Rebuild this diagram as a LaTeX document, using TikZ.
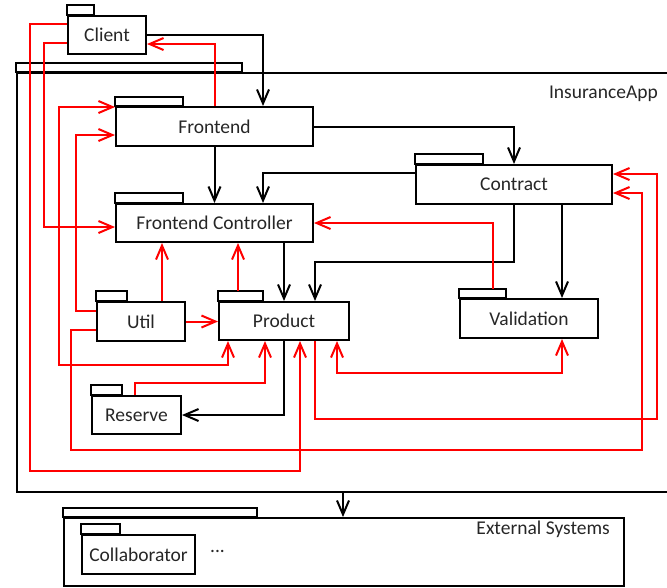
\documentclass[tikz,border=0pt]{standalone}
\usepackage{fontspec}
\setmainfont{Carlito}
\usetikzlibrary{arrows.meta,calc}
\newcommand\pkgfont{\fontsize{19.5}{23}\selectfont}
\begin{document}
\begin{tikzpicture}[x=1pt,y=-1pt,
  pkg/.style={draw=black, line width=2pt, rectangle, inner sep=0pt,
              anchor=north west, font=\pkgfont, text=black!85},
  tabline/.style={draw=black, line width=2pt},
  tip/.tip={Straight Barb[length=14pt,width=12pt]},
  uses/.style={draw=black, line width=2pt, -tip},
  dep/.style={draw=red, line width=2pt, -tip},
  depboth/.style={draw=red, line width=2pt, tip-tip},
]
\useasboundingbox (0,0) rectangle (667,587);
\clip (0,0) rectangle (667,587);

% outer package: the application
\node[pkg, minimum width=664pt, minimum height=419pt] (app) at (16,72) {};
\draw[tabline] (app.north west) rectangle (242,63);
\node[font=\pkgfont, text=black!85, inner sep=0pt, anchor=base east] (applabel) at (658,98) {InsuranceApp};

% packages
\node[pkg, minimum width=78pt,  minimum height=38pt] (client)     at (67,15)   {Client};
\node[pkg, minimum width=197pt, minimum height=39pt] (frontend)   at (115,106) {Frontend};
\node[pkg, minimum width=196pt, minimum height=39pt] (contract)   at (415,164) {Contract};
\node[pkg, minimum width=197pt, minimum height=38pt] (fc)         at (115,203) {Frontend Controller};
\node[pkg, minimum width=88pt,  minimum height=39pt] (util)       at (96,301)  {Util};
\node[pkg, minimum width=130pt, minimum height=38pt] (product)    at (218,301) {Product};
\node[pkg, minimum width=138pt, minimum height=39pt] (validation) at (459,298) {Validation};
\node[pkg, minimum width=89pt,  minimum height=38pt] (reserve)    at (91,395)  {Reserve};

\draw[tabline] (client.north west)     rectangle ++(27,-10);
\draw[tabline] (frontend.north west)   rectangle ++(68,-9);
\draw[tabline] (contract.north west)   rectangle ++(68,-10);
\draw[tabline] (fc.north west)         rectangle ++(68,-10);
\draw[tabline] (util.north west)       rectangle ++(31,-10);
\draw[tabline] (product.north west)    rectangle ++(45,-10);
\draw[tabline] (validation.north west) rectangle ++(47,-9);
\draw[tabline] (reserve.north west)    rectangle ++(31,-10);

% external systems
\node[pkg, minimum width=560pt, minimum height=68pt] (ext) at (63,517) {};
\draw[tabline] (ext.north west) rectangle (257,508);
\node[font=\pkgfont, text=black!85, inner sep=0pt, anchor=base east] (extlabel) at (610,534.5) {External Systems};
\node[pkg, minimum width=113pt, minimum height=39pt] (collab) at (81,534) {Collaborator};
\draw[tabline] (collab.north west) rectangle ++(39,-10);
\node[font=\pkgfont, text=black!85, inner sep=0pt] (more) at (217.5,551) {...};

% black dependencies
\draw[uses] (client.east) -| ($(frontend.north west)+(148,0)$);
\draw[uses] (frontend.east) -| (contract.north);
\draw[uses] (frontend.south) -- (fc.north);
\draw[uses] ($(contract.north west)+(0,9)$) -| ($(fc.north west)+(148,0)$);
\draw[uses] (product.north |- fc.south) -- (product.north);
\draw[uses] (contract.south) -- ++(0,57) -| ($(product.north west)+(97,0)$);
\draw[uses] ($(contract.south west)+(147,0)$) -- ($(validation.north west)+(103,0)$);
\draw[uses] (product.south) |- (reserve.east);
\draw[uses] ($(app.south west)+(327,0)$) -- ($(ext.north west)+(280,0)$);

% red dependencies
\draw[dep] (frontend.north) |- ($(client.north east)+(0,29)$);
\draw[dep] ($(client.north west)+(0,9)$) -| (30,471) -| ($(product.south west)+(82,0)$);
\draw[dep] ($(client.north west)+(0,28)$) -| (44,227) -- ($(fc.north west)+(0,24)$);
\draw[depboth] ($(product.south west)+(10,0)$) |- (59,365) |- ($(frontend.north west)+(0,1)$);
\draw[dep] ($(util.north west)+(0,10)$) -| (76,135) -- ($(frontend.north west)+(0,29)$);
\draw[dep] ($(util.north west)+(0,29)$) -| (71,450) -| (642,193) -- ($(contract.north east)+(0,29)$);
\draw[dep] ($(product.south west)+(97,0)$) |- (657,419) |- ($(contract.north east)+(0,10)$);
\draw[depboth] ($(product.south west)+(119,0)$) -- ++(0,32) -| ($(validation.south west)+(103,0)$);
\draw[dep] ($(util.north west)+(66,0)$) -- ($(fc.south west)+(47,0)$);
\draw[dep] ($(product.north west)+(20,-10)$) -- ($(fc.south west)+(123,0)$);
\draw[dep] (util.east) -- (util.east -| product.west);
\draw[dep] ($(reserve.north west)+(44,0)$) -- ++(0,-12) -| ($(product.south west)+(47,0)$);
\draw[dep] ($(validation.north west)+(34,-9)$) |- (fc.east);
\end{tikzpicture}
\end{document}
